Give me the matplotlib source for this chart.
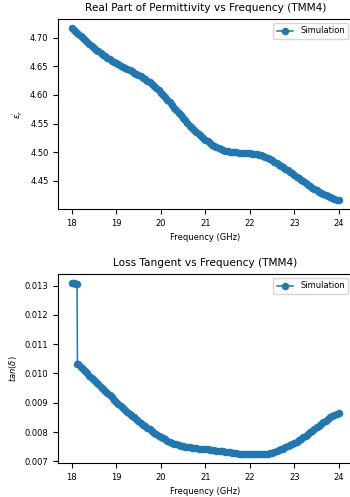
import numpy as np
import matplotlib
matplotlib.use('Agg')
import matplotlib.pyplot as plt

# Datos (TMM4), paso de 0.05 GHz
freq_er = [18.00, 18.05, 18.10, 18.15, 18.20, 18.25, 18.30, 18.35, 18.40, 18.45,
           18.50, 18.55, 18.60, 18.65, 18.70, 18.75, 18.80, 18.85, 18.90, 18.95,
           19.00, 19.05, 19.10, 19.15, 19.20, 19.25, 19.30, 19.35, 19.40, 19.45,
           19.50, 19.55, 19.60, 19.65, 19.70, 19.75, 19.80, 19.85, 19.90, 19.95,
           20.00, 20.05, 20.10, 20.15, 20.20, 20.25, 20.30, 20.35, 20.40, 20.45,
           20.50, 20.55, 20.60, 20.65, 20.70, 20.75, 20.80, 20.85, 20.90, 20.95,
           21.00, 21.05, 21.10, 21.15, 21.20, 21.25, 21.30, 21.35, 21.40, 21.45,
           21.50, 21.55, 21.60, 21.65, 21.70, 21.75, 21.80, 21.85, 21.90, 21.95,
           22.00, 22.05, 22.10, 22.15, 22.20, 22.25, 22.30, 22.35, 22.40, 22.45,
           22.50, 22.55, 22.60, 22.65, 22.70, 22.75, 22.80, 22.85, 22.90, 22.95,
           23.00, 23.05, 23.10, 23.15, 23.20, 23.25, 23.30, 23.35, 23.40, 23.45,
           23.50, 23.55, 23.60, 23.65, 23.70, 23.75, 23.80, 23.85, 23.90, 23.95,
           24.00]
eps_r = [4.7174, 4.7140, 4.7105, 4.7070, 4.7035, 4.7000, 4.6965, 4.6930, 4.6895, 4.6860,
         4.6826, 4.6792, 4.6760, 4.6729, 4.6700, 4.6672, 4.6645, 4.6622, 4.6600, 4.6576,
         4.6552, 4.6532, 4.6512, 4.6491, 4.6470, 4.6450, 4.6430, 4.6410, 4.6390, 4.6370,
         4.6350, 4.6326, 4.6300, 4.6276, 4.6250, 4.6219, 4.6186, 4.6152, 4.6116, 4.6079,
         4.6040, 4.6001, 4.5960, 4.5916, 4.5870, 4.5825, 4.5780, 4.5735, 4.5690, 4.5645,
         4.5600, 4.5555, 4.5510, 4.5465, 4.5420, 4.5384, 4.5350, 4.5314, 4.5280, 4.5249,
         4.5220, 4.5189, 4.5160, 4.5134, 4.5110, 4.5089, 4.5070, 4.5054, 4.5040, 4.5029,
         4.5020, 4.5012, 4.5005, 4.5000, 4.4995, 4.4992, 4.4990, 4.4988, 4.4985, 4.4983,
         4.4980, 4.4975, 4.4970, 4.4963, 4.4955, 4.4943, 4.4930, 4.4916, 4.4900, 4.4880,
         4.4858, 4.4834, 4.4810, 4.4785, 4.4760, 4.4735, 4.4710, 4.4684, 4.4658, 4.4632,
         4.4605, 4.4576, 4.4547, 4.4518, 4.4490, 4.4461, 4.4433, 4.4404, 4.4377, 4.4354,
         4.4332, 4.4311, 4.4290, 4.4270, 4.4250, 4.4232, 4.4215, 4.4200, 4.4185, 4.4172,
         4.4160]

freq_tan = [18.00, 18.03, 18.06, 18.09, 18.12, 18.13, 18.15,
            18.20, 18.25, 18.30, 18.35, 18.40, 18.45, 18.50, 18.55, 18.60, 18.65,
            18.70, 18.75, 18.80, 18.85, 18.90, 18.95, 19.00, 19.05, 19.10, 19.15,
            19.20, 19.25, 19.30, 19.35, 19.40, 19.45, 19.50, 19.55, 19.60, 19.65,
            19.70, 19.75, 19.80, 19.85, 19.90, 19.95, 20.00, 20.05, 20.10, 20.15,
            20.20, 20.25, 20.30, 20.35, 20.40, 20.45, 20.50, 20.55, 20.60, 20.65,
            20.70, 20.75, 20.80, 20.85, 20.90, 20.95, 21.00, 21.05, 21.10, 21.15,
            21.20, 21.25, 21.30, 21.35, 21.40, 21.45, 21.50, 21.55, 21.60, 21.65,
            21.70, 21.75, 21.80, 21.85, 21.90, 21.95, 22.00, 22.05, 22.10, 22.15,
            22.20, 22.25, 22.30, 22.35, 22.40, 22.45, 22.50, 22.55, 22.60, 22.65,
            22.70, 22.75, 22.80, 22.85, 22.90, 22.95, 23.00, 23.05, 23.10, 23.15,
            23.20, 23.25, 23.30, 23.35, 23.40, 23.45, 23.50, 23.55, 23.60, 23.65,
            23.70, 23.75, 23.80, 23.85, 23.90, 23.95, 24.00]
tan_d = [0.01310, 0.01309, 0.01307, 0.01306, 0.01304, 0.01034, 0.01031,
         0.010225, 0.01015, 0.01008, 0.01000, 0.00993, 0.00985, 0.00977, 0.00970, 0.00963, 0.00955,
         0.00948, 0.00940, 0.00933, 0.00926, 0.00919, 0.00911, 0.00903, 0.00896, 0.00890, 0.00883,
         0.00876, 0.00869, 0.00863, 0.00856, 0.00850, 0.00844, 0.00838, 0.00832, 0.00826, 0.00820,
         0.00815, 0.00809, 0.00803, 0.00798, 0.00793, 0.00788, 0.00784, 0.00779, 0.00775, 0.00771,
         0.00767, 0.00764, 0.00761, 0.00758, 0.00755, 0.00753, 0.00751, 0.00750, 0.00749, 0.00748,
         0.00747, 0.00746, 0.00745, 0.00744, 0.00744, 0.00743, 0.00742, 0.00741, 0.00740, 0.00739,
         0.00738, 0.00737, 0.00736, 0.00735, 0.00734, 0.00733, 0.00732, 0.00731, 0.00730, 0.00729,
         0.00728, 0.00727, 0.00727, 0.00726, 0.00726, 0.00725, 0.00725, 0.00724, 0.00724, 0.00724,
         0.00724, 0.00724, 0.00725, 0.00726, 0.00727, 0.00728, 0.00730, 0.00732, 0.00735, 0.00738,
         0.00741, 0.00744, 0.00748, 0.00752, 0.00756, 0.00760, 0.00764, 0.00768, 0.00773, 0.00778,
         0.00783, 0.00788, 0.00794, 0.00799, 0.00805, 0.00810, 0.00816, 0.00821, 0.00827, 0.00833,
         0.00839, 0.00845, 0.00850, 0.00854, 0.00858, 0.00861, 0.00864]

plt.rcParams['font.size'] = 6

fig = plt.figure(figsize=(3.5, 4.97), dpi=100)
ax1 = fig.add_axes([0.1666, 0.5795, 0.84, 0.3823])
ax2 = fig.add_axes([0.1666, 0.0684, 0.84, 0.3803])

estilo = dict(marker='o', markersize=5.4, markeredgewidth=0, linewidth=1.1, label='Simulation')

ax1.plot(freq_er, eps_r, **estilo)
ax1.set_xlabel('Frequency (GHz)')
ax1.set_ylabel(r"$\epsilon^{'}_r$")
ax1.set_title('Real Part of Permittivity vs Frequency (TMM4)', fontsize=7.6)
ax1.legend(loc='upper right')

ax2.plot(freq_tan, tan_d, **estilo)
ax2.set_xlabel('Frequency (GHz)')
ax2.set_ylabel(r'$tan(\delta)$')
ax2.set_title('Loss Tangent vs Frequency (TMM4)', fontsize=7.6)
ax2.legend(loc='upper right')

fig.savefig('out.png', dpi=100)
